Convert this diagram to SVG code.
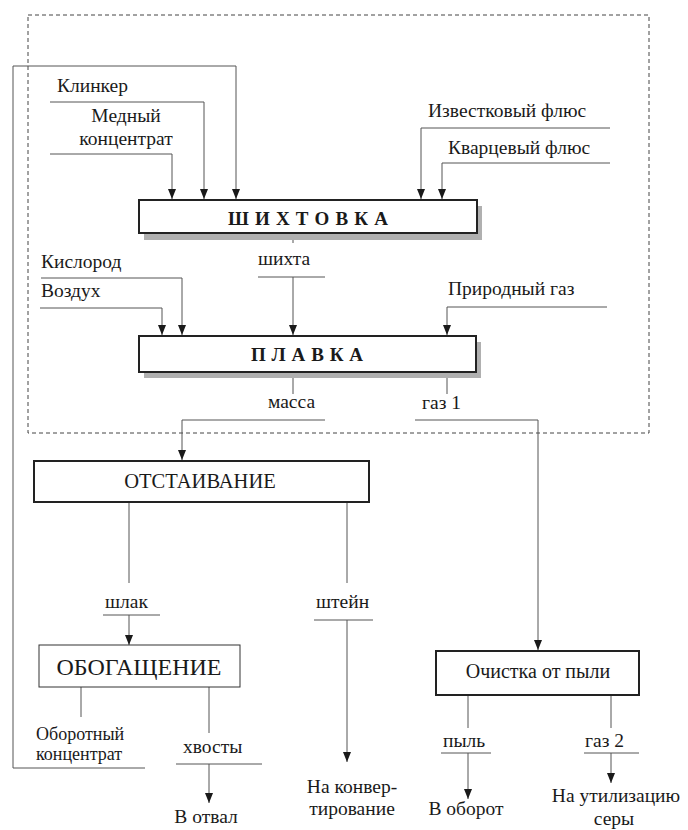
<svg xmlns="http://www.w3.org/2000/svg" width="688" height="830" viewBox="0 0 688 830">
<style>
text{font-family:"Liberation Serif","DejaVu Serif","Times New Roman",serif;font-size:19.5px;fill:#1a1a1a}
.c{text-anchor:middle}
.sm{font-size:18px}
.title{font-weight:bold;font-size:19px}
.box{fill:#fff;stroke:#222;stroke-width:2}
.thin{fill:#fff;stroke:#333;stroke-width:1}
.shadow{fill:#b0b0b0}
.ln{fill:none;stroke:#555;stroke-width:1}
.dash{fill:none;stroke:#444;stroke-width:1;stroke-dasharray:4 3}
</style>
<defs>
<marker id="ar" viewBox="0 0 10 8" refX="10" refY="4" markerWidth="10" markerHeight="8" markerUnits="userSpaceOnUse" orient="auto">
<path d="M0,0 L10,4 L0,8 Z" fill="#1a1a1a"/>
</marker>
</defs>
<rect class="dash" x="28" y="15" width="621" height="418"/>
<g id="connectors">
<path class="ln" d="M145,768 H13 V66 H236 V199" marker-end="url(#ar)"/>
<path class="ln" d="M50,102 H204 V199" marker-end="url(#ar)"/>
<path class="ln" d="M50,154 H172 V199" marker-end="url(#ar)"/>
<path class="ln" d="M610,128 H421 V199" marker-end="url(#ar)"/>
<path class="ln" d="M610,163 H442 V199" marker-end="url(#ar)"/>
<path class="ln" d="M293,233 V243"/>
<path class="ln" d="M258,277 H325"/>
<path class="ln" d="M293,277 V335" marker-end="url(#ar)"/>
<path class="ln" d="M41,278 H182 V335" marker-end="url(#ar)"/>
<path class="ln" d="M40,308 H162 V335" marker-end="url(#ar)"/>
<path class="ln" d="M607,307 H447 V335" marker-end="url(#ar)"/>
<path class="ln" d="M293,372 V394"/>
<path class="ln" d="M325,420 H182 V460" marker-end="url(#ar)"/>
<path class="ln" d="M447,372 V394"/>
<path class="ln" d="M415,420 H538 V650" marker-end="url(#ar)"/>
<path class="ln" d="M129,502 V583"/>
<path class="ln" d="M347,502 V583"/>
<path class="ln" d="M103,615 H160"/>
<path class="ln" d="M129,615 V645" marker-end="url(#ar)"/>
<path class="ln" d="M314,620 H373"/>
<path class="ln" d="M347,620 V762" marker-end="url(#ar)"/>
<path class="ln" d="M81,687 V717"/>
<path class="ln" d="M209,687 V733"/>
<path class="ln" d="M176,764 H262"/>
<path class="ln" d="M209,764 V803" marker-end="url(#ar)"/>
<path class="ln" d="M468,695 V728"/>
<path class="ln" d="M611,695 V728"/>
<path class="ln" d="M441,753 H491"/>
<path class="ln" d="M468,753 V799" marker-end="url(#ar)"/>
<path class="ln" d="M584,753 H639"/>
<path class="ln" d="M611,753 V783" marker-end="url(#ar)"/>
</g>
<g id="labels">
<text x="57" y="92">Клинкер</text>
<text class="c" x="126" y="122">Медный</text>
<text class="c" x="126" y="145">концентрат</text>
<text x="428" y="117">Известковый флюс</text>
<text x="448" y="154">Кварцевый флюс</text>
<text x="258" y="265">шихта</text>
<text x="41" y="268">Кислород</text>
<text x="41" y="297">Воздух</text>
<text x="448" y="295">Природный газ</text>
<text x="268" y="408">масса</text>
<text x="422" y="409">газ 1</text>
<text x="105" y="608">шлак</text>
<text x="316" y="608">штейн</text>
<text class="sm" x="36" y="740">Оборотный</text>
<text class="sm" x="36" y="760">концентрат</text>
<text x="183" y="753">хвосты</text>
<text class="c" x="206" y="823">В отвал</text>
<text class="c" x="352" y="793">На конвер-</text>
<text class="c" x="352" y="815">тирование</text>
<text x="443" y="747">пыль</text>
<text x="585" y="747">газ 2</text>
<text class="c" x="466" y="815">В оборот</text>
<text class="c" x="616" y="802">На утилизацию</text>
<text class="c" x="614" y="825">серы</text>
</g>
<g id="shihtovka">
<rect class="shadow" x="144" y="206" width="338" height="34"/>
<rect class="box" x="139" y="200" width="338" height="33"/>
<text class="title c" x="308" y="225" textLength="160" lengthAdjust="spacing">Ш И Х Т О В К А</text>
</g>
<g id="plavka">
<rect class="shadow" x="144" y="342" width="337" height="36"/>
<rect class="box" x="139" y="336" width="337" height="36"/>
<text class="title c" x="307" y="361" textLength="112" lengthAdjust="spacing">П Л А В К А</text>
</g>
<g id="otstaivanie">
<rect class="box" x="34" y="461" width="335" height="41"/>
<text class="c" x="200" y="488" style="font-size:20.5px">ОТСТАИВАНИЕ</text>
</g>
<g id="obogaschenie">
<rect class="thin" x="39" y="645" width="201" height="42"/>
<text class="c" x="139" y="675" style="font-size:24px">ОБОГАЩЕНИЕ</text>
</g>
<g id="ochistka">
<rect class="box" x="436" y="651" width="203" height="44"/>
<text class="c" x="538" y="678" style="font-size:20px">Очистка от пыли</text>
</g>
</svg>
